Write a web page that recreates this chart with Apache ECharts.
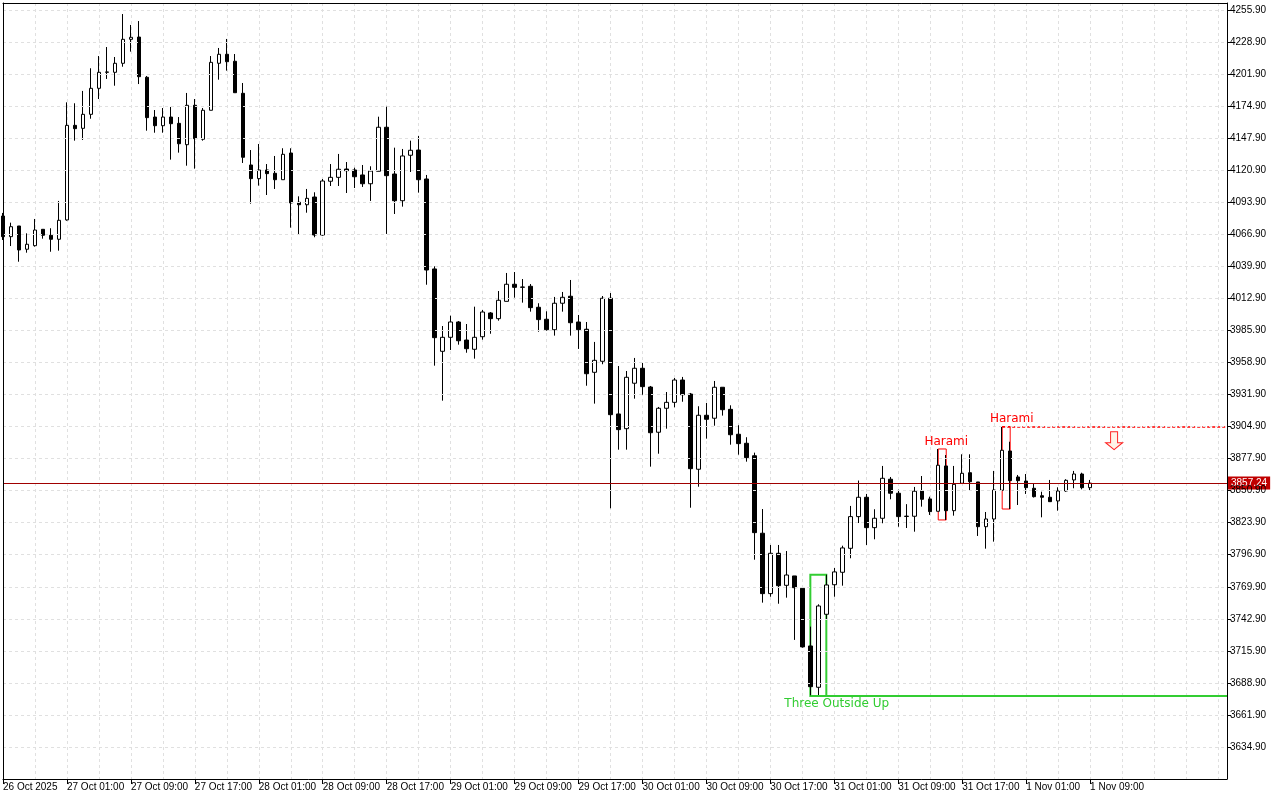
<!DOCTYPE html>
<html><head><meta charset="utf-8">
<script src="https://cdn.jsdelivr.net/npm/echarts@6/dist/echarts.min.js"></script>
<style>html,body{margin:0;padding:0;background:#fff}#c{width:1280px;height:800px}</style>
</head><body><div id="c"></div>
<script>
// Hourly bars starting 26 Oct 2025 17:00 (bar index = hours since start)
const xTickLabels = ["26 Oct 2025","27 Oct 01:00","27 Oct 09:00","27 Oct 17:00","28 Oct 01:00","28 Oct 09:00","28 Oct 17:00","29 Oct 01:00","29 Oct 09:00","29 Oct 17:00","30 Oct 01:00","30 Oct 09:00","30 Oct 17:00","31 Oct 01:00","31 Oct 09:00","31 Oct 17:00","1 Nov 01:00","1 Nov 09:00"];
const xTickIndex = [0,8,16,24,32,40,48,56,64,72,80,88,96,104,112,120,128,136];

const opens = [4082.3,4064.9,4073.9,4054.3,4057.3,4071.1,4066.1,4062.7,4079.0,4158.7,4156.2,4168.0,4189.9,4203.4,4203.4,4211.0,4231.2,4233.1,4199.2,4165.7,4158.4,4165.7,4160.4,4142.4,4175.6,4147.0,4171.4,4211.0,4218.6,4212.7,4185.7,4125.3,4113.8,4121.1,4118.3,4112.9,4135.4,4093.9,4091.8,4098.3,4066.3,4111.6,4114.9,4121.9,4121.1,4116.9,4109.5,4120.0,4157.1,4117.7,4095.2,4133.5,4137.9,4113.5,4037.7,3968.3,3980.1,3993.0,3977.8,3970.0,3980.6,4000.6,3995.8,4010.4,4024.8,4022.2,4023.1,4005.4,3995.3,3986.5,4008.8,4014.7,3993.0,3986.9,3950.6,3959.9,4013.0,3915.5,3903.1,3941.4,3954.0,3938.2,3900.1,3920.3,3925.3,3944.1,3932.3,3868.9,3914.4,3911.9,3938.0,3919.4,3898.4,3890.8,3880.3,3815.0,3764.1,3798.1,3771.1,3779.0,3768.6,3720.0,3685.2,3746.7,3771.6,3782.1,3802.3,3829.0,3845.3,3819.7,3827.6,3860.5,3848.7,3829.1,3829.3,3850.6,3843.9,3833.5,3871.7,3834.0,3857.1,3866.0,3858.2,3820.5,3827.0,3851.2,3884.3,3862.4,3859.0,3852.9,3846.6,3845.3,3842.2,3850.6,3859.9,3864.9,3853.4];
const highs = [4084.9,4076.7,4073.9,4067.7,4079.8,4071.1,4072.0,4095.0,4178.1,4177.3,4187.7,4206.8,4217.1,4224.7,4216.3,4252.5,4243.3,4246.6,4200.3,4171.6,4173.3,4174.2,4165.7,4186.0,4180.9,4173.3,4217.1,4223.9,4231.5,4218.8,4194.4,4137.9,4143.0,4126.1,4132.9,4139.4,4139.4,4098.9,4105.1,4102.3,4113.5,4126.1,4134.6,4127.8,4123.0,4125.3,4124.2,4166.0,4174.4,4139.9,4138.8,4145.8,4149.7,4116.9,4039.9,3989.6,3998.3,3993.8,3991.3,4005.9,4003.1,4001.4,4019.1,4034.3,4035.1,4029.2,4025.0,4008.8,4002.0,4014.1,4018.3,4028.4,3998.9,3993.0,3976.2,4014.9,4017.4,3955.9,3951.7,3962.7,3958.5,3939.1,3921.4,3934.0,3945.8,3946.7,3933.2,3922.0,3924.8,3943.3,3938.0,3922.8,3906.0,3895.9,3882.9,3835.4,3805.1,3805.1,3800.0,3779.0,3768.6,3736.3,3755.1,3780.1,3785.7,3804.5,3838.0,3859.4,3848.1,3835.2,3871.7,3862.4,3851.7,3839.5,3854.0,3863.2,3845.8,3886.0,3880.9,3871.7,3881.5,3881.5,3858.2,3832.9,3867.5,3904.9,3892.1,3864.1,3864.9,3856.5,3850.0,3859.9,3853.7,3860.5,3867.5,3866.0,3859.9];
const lows = [4062.1,4057.0,4043.8,4051.4,4056.5,4063.2,4052.2,4053.1,4078.4,4145.8,4146.4,4164.3,4180.9,4197.8,4192.1,4208.1,4220.8,4193.5,4154.2,4152.5,4152.5,4129.8,4135.7,4124.7,4122.2,4145.8,4171.4,4197.2,4204.8,4186.2,4127.0,4092.7,4107.9,4100.0,4105.1,4112.9,4072.5,4066.6,4085.1,4064.4,4065.7,4107.6,4107.6,4101.7,4105.9,4106.8,4095.0,4120.0,4067.2,4084.0,4090.2,4119.4,4102.0,4024.4,3956.2,3926.7,3969.4,3973.9,3967.1,3962.1,3978.1,3983.1,3994.1,4010.4,4013.5,4009.3,4001.7,3984.8,3985.7,3981.5,4001.7,3981.5,3970.3,3939.3,3924.2,3957.4,3836.0,3885.4,3885.4,3928.4,3931.7,3871.1,3882.0,3903.1,3921.1,3925.8,3836.5,3854.2,3894.7,3905.6,3914.1,3889.6,3881.2,3875.3,3792.7,3756.5,3761.5,3755.6,3760.7,3725.1,3718.6,3677.9,3677.9,3742.5,3761.5,3770.8,3793.9,3823.6,3805.1,3809.9,3823.4,3843.6,3820.5,3819.4,3816.3,3837.4,3830.4,3833.5,3826.2,3829.8,3857.1,3850.9,3812.7,3802.0,3807.9,3851.2,3835.4,3838.8,3848.1,3845.1,3828.4,3841.6,3834.0,3850.0,3852.9,3852.0,3850.9];
const closes = [4064.9,4073.3,4053.7,4058.5,4070.5,4066.1,4062.7,4078.7,4158.7,4155.9,4168.0,4189.9,4203.4,4203.7,4211.0,4231.2,4232.9,4199.7,4165.2,4158.4,4165.7,4160.1,4143.2,4175.6,4147.5,4171.4,4211.8,4218.6,4212.3,4186.2,4131.8,4113.8,4121.1,4118.0,4112.9,4134.3,4093.3,4091.8,4097.2,4066.3,4111.8,4114.9,4121.7,4120.5,4115.4,4109.5,4120.2,4157.1,4116.3,4095.2,4132.9,4137.7,4112.9,4036.8,3979.8,3980.1,3993.0,3977.2,3970.5,3980.1,4001.4,3995.8,4011.3,4024.8,4022.2,4022.5,4005.1,3995.0,3986.5,4008.8,4013.8,3992.4,3986.5,3949.4,3960.7,4013.0,3914.9,3902.3,3946.4,3954.0,3938.5,3899.7,3920.3,3925.3,3944.1,3931.7,3869.4,3914.4,3911.0,3938.0,3919.1,3898.0,3890.5,3878.7,3815.5,3764.1,3798.1,3770.8,3779.8,3769.1,3719.2,3685.7,3753.7,3771.4,3782.4,3802.6,3829.0,3845.3,3819.7,3827.6,3861.3,3848.7,3829.0,3829.4,3850.4,3843.6,3833.2,3872.3,3834.0,3856.2,3865.5,3858.4,3820.5,3827.0,3851.4,3884.9,3859.3,3859.3,3853.4,3845.8,3845.3,3841.6,3850.6,3859.6,3864.9,3853.4,3857.24];

const lastPrice = 3857.24;
// Pattern annotations (bar index range, price range)
const harami1 = {from:117, to:118, low:3826.2, high:3886.0, text:'Harami', textAt:[118.0, 3892.1]};
const harami2 = {from:125, to:126, low:3835.4, high:3904.9, text:'Harami', textAt:[126.2, 3911.0]};
const threeUp = {from:101, to:103, low:3677.9, high:3780.1, text:'Three Outside Up', textAt:[104.3, 3671.1]};
const sellArrowAt = [139.0, 3893.0];

const X_MAX = 153.125, Y_MIN = 3607.9, Y_MAX = 4261.8;
const candleData = opens.map((o,i)=>[i,o,closes[i],lows[i],highs[i]]);
const FONT = 'Liberation Sans';

const chart = echarts.init(document.getElementById('c'), null, {renderer:'canvas'});
const textPoint = (p, color) => ({
  coord: p.textAt, symbol:'rect', symbolSize:1, itemStyle:{color:'rgba(0,0,0,0)'},
  label:{show:true, position:'inside', formatter:p.text, color:color, fontSize:12, fontFamily:'DejaVu Sans'}
});
const frameAxis = {splitLine:{show:false}, axisLabel:{show:false}, axisTick:{show:false},
                   axisLine:{show:true, onZero:false, lineStyle:{color:'#000', width:1}}, z:10};
chart.setOption({
  animation:false,
  backgroundColor:'#ffffff',
  grid:{left:2, right:53, top:3, bottom:21, show:false},
  xAxis:[
    {type:'value', min:0, max:X_MAX, interval:4,
     splitLine:{show:true, lineStyle:{color:'#e0e0e0', type:[3,3], width:1}},
     axisLabel:{show:false}, axisTick:{show:false}, axisLine:{show:false}},
    {type:'value', min:0, max:X_MAX, interval:8, position:'bottom', z:10,
     splitLine:{show:false},
     axisLine:{show:true, onZero:false, lineStyle:{color:'#000'}},
     axisTick:{show:true, length:5, lineStyle:{color:'#000'}, customValues:xTickIndex},
     axisLabel:{customValues:xTickIndex, formatter:(v)=>xTickLabels[xTickIndex.indexOf(v)]||'', align:'left', margin:3, fontSize:10, color:'#000', fontFamily:FONT}},
    Object.assign({type:'value', min:0, max:X_MAX, position:'top'}, frameAxis)
  ],
  yAxis:[
    {type:'value', position:'right', min:Y_MIN, max:Y_MAX, interval:27, z:10,
     splitLine:{show:true, lineStyle:{color:'#e0e0e0', type:[3,3], width:1}},
     axisLine:{show:true, onZero:false, lineStyle:{color:'#000'}},
     axisTick:{show:true, length:4, lineStyle:{color:'#000'}},
     axisLabel:{showMinLabel:false, showMaxLabel:false, formatter:(v)=>v.toFixed(2), margin:3, fontSize:10, color:'#000', fontFamily:FONT}},
    Object.assign({type:'value', min:Y_MIN, max:Y_MAX, position:'left'}, frameAxis)
  ],
  series:[{
    type:'candlestick', xAxisIndex:0, yAxisIndex:0,
    dimensions:['idx','open','close','lowest','highest'],
    encode:{x:0, y:[1,2,3,4]},
    data:candleData, barWidth:4,
    itemStyle:{color:'#ffffff', color0:'#000000', borderColor:'#000000', borderColor0:'#000000', borderWidth:1},
    markArea:{silent:true, data:[
      [{coord:[harami1.from, harami1.low], itemStyle:{color:'rgba(0,0,0,0)', borderColor:'#ff0000', borderWidth:1}}, {coord:[harami1.to, harami1.high]}],
      [{coord:[harami2.from, harami2.low], itemStyle:{color:'rgba(0,0,0,0)', borderColor:'#ff0000', borderWidth:1}}, {coord:[harami2.to, harami2.high]}],
      [{coord:[threeUp.from, threeUp.low], itemStyle:{color:'rgba(0,0,0,0)', borderColor:'#32cd32', borderWidth:2}}, {coord:[threeUp.to, threeUp.high]}]
    ]},
    markLine:{silent:true, symbol:['none','none'], label:{show:false}, data:[
      {yAxis:lastPrice, lineStyle:{color:'#a00000', width:1, type:'solid'},
       label:{show:true, position:'end', formatter:lastPrice.toFixed(2), backgroundColor:'#c00000', color:'#fff', padding:[2,3,1,3], distance:1, fontSize:10, fontFamily:FONT}},
      [{coord:[harami2.from, harami2.high], lineStyle:{color:'#ff0000', width:1.5, type:[3,2]}}, {coord:[X_MAX, harami2.high]}],
      [{coord:[threeUp.from, threeUp.low], lineStyle:{color:'#32cd32', width:2, type:'solid'}}, {coord:[X_MAX, threeUp.low]}]
    ]},
    markPoint:{silent:true, data:[
      textPoint(harami1, '#ff0000'),
      textPoint(harami2, '#ff0000'),
      textPoint(threeUp, '#32cd32'),
      {coord:sellArrowAt, symbol:'path://M5,0 L12,0 L12,11 L17,11 L8.5,18 L0,11 L5,11 Z', symbolSize:[17,18],
       itemStyle:{color:'#fff3e8', borderColor:'#ff2020', borderWidth:1}, label:{show:false}}
    ]}
  }]
});
</script></body></html>
